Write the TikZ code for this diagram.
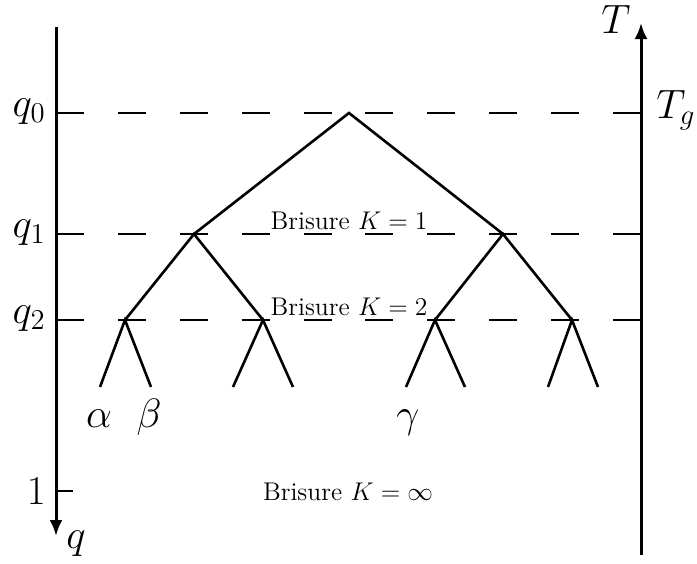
\RequirePackage{fix-cm}
\documentclass[tikz,border=0pt]{standalone}
\usetikzlibrary{arrows.meta}
\begin{document}
\begin{tikzpicture}[x=0.5pt,y=-0.5pt,
  axis/.style={line width=1.5pt},
  branch/.style={line width=1.3pt},
  levelline/.style={line width=0.75pt, dash pattern=on 14pt off 16.94pt},
  lab/.style={font=\fontsize{20.5}{24}\selectfont, inner sep=0pt},
  txt/.style={font=\fontsize{12.8}{16}\selectfont, inner sep=0pt}]
\useasboundingbox (0,0) rectangle (697,563);
% axis end points
\coordinate (Ltop) at (56,27);
\coordinate (Lbot) at (56,536);
\coordinate (Rbot) at (641,555);
\coordinate (Rtop) at (641,23);
% level lines
\coordinate (L0) at (56,113); \coordinate (R0) at (641,113);
\coordinate (L1) at (56,234); \coordinate (R1) at (641,234);
\coordinate (L2) at (56,320); \coordinate (R2) at (641,320);
\coordinate (L3) at (56,491); \coordinate (T3) at (73,491);
\draw[levelline] (L0) -- (R0);
\draw[levelline] (L1) -- (R1);
\draw[levelline] (L2) -- (R2);
\draw[line width=0.75pt] (L3) -- (T3);
% axes
\draw[axis,-{Latex[length=8pt,width=6.5pt]}] (Ltop) -- (Lbot);
\draw[axis,-{Latex[length=8pt,width=6.5pt]}] (Rbot) -- (Rtop);
% tree
\coordinate (r) at (349,113);
\coordinate (a) at (194,234);
\coordinate (b) at (503,234);
\coordinate (a1) at (125,320);
\coordinate (a2) at (263,320);
\coordinate (b1) at (435,320);
\coordinate (b2) at (572,320);
\coordinate (a1l) at (100,387); \coordinate (a1r) at (151,387);
\coordinate (a2l) at (233,387); \coordinate (a2r) at (293,387);
\coordinate (b1l) at (406,387); \coordinate (b1r) at (465,387);
\coordinate (b2l) at (548,387); \coordinate (b2r) at (598,387);
\draw[branch] (a) -- (r) -- (b);
\draw[branch] (a1) -- (a) -- (a2);
\draw[branch] (b1) -- (b) -- (b2);
\draw[branch] (a1l) -- (a1) -- (a1r);
\draw[branch] (a2l) -- (a2) -- (a2r);
\draw[branch] (b1l) -- (b1) -- (b1r);
\draw[branch] (b2l) -- (b2) -- (b2r);
% labels
\node[lab, anchor=east] (q0) at (46,112) {$q_0$};
\node[lab, anchor=east] (q1) at (46,233) {$q_1$};
\node[lab, anchor=east] (q2) at (46,319) {$q_2$};
\node[lab, anchor=east] (one) at (46,491) {$1$};
\node[lab] (q) at (76,544) {$q$};
\node[lab] (T) at (616,19) {$T$};
\node[lab, anchor=west] (Tg) at (656,110) {$T_g$};
\node[lab, anchor=base] (alpha) at (99,427) {$\alpha$};
\node[lab, anchor=base] (beta) at (149,427) {$\beta$};
\node[lab, anchor=base] (gamma) at (408,427) {$\gamma$};
\node[txt, anchor=base] (k1) at (349,229) {Brisure $K=1$};
\node[txt, anchor=base] (k2) at (349,315) {Brisure $K=2$};
\node[txt, anchor=base] (kinf) at (348,500) {Brisure $K=\infty$};
\end{tikzpicture}
\end{document}
